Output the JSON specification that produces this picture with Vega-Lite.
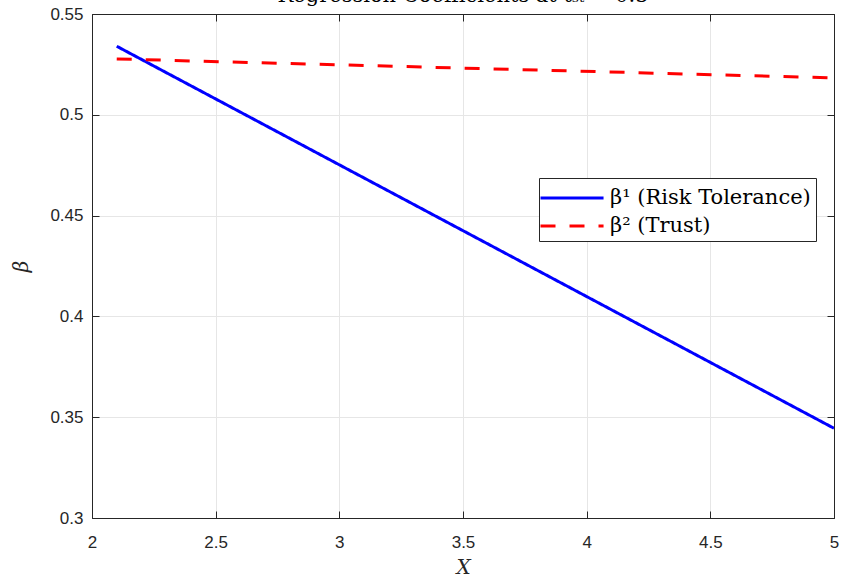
{
  "$schema": "https://vega.github.io/schema/vega-lite/v6.json",
  "autosize": {"type": "none"},
  "width": 742,
  "height": 504,
  "padding": {"left": 92, "top": 14, "right": 8, "bottom": 60},
  "background": "white",
  "title": {
    "text": "Regression Coefficients at tₛₜ = 0.5",
    "font": "DejaVu Serif",
    "fontSize": 21,
    "fontWeight": "normal",
    "color": "#000000",
    "baseline": "alphabetic",
    "frame": "group",
    "offset": 0,
    "dy": 18,
    "anchor": "middle"
  },
  "config": {
    "view": {"stroke": "#262626", "strokeWidth": 1},
    "axis": {
      "labelFont": "Liberation Sans",
      "labelFontSize": 17,
      "labelColor": "#262626",
      "domainColor": "#262626",
      "tickColor": "#262626",
      "tickSize": -7,
      "gridColor": "#e6e6e6",
      "gridWidth": 1,
      "titleFont": "DejaVu Serif",
      "titleFontStyle": "italic",
      "titleFontWeight": "normal",
      "titleFontSize": 20,
      "titleColor": "#262626"
    }
  },
  "data": {
    "values": [
      {"x": 2.1, "beta": 0.534, "series": "β¹ (Risk Tolerance)"},
      {"x": 5.0, "beta": 0.3445, "series": "β¹ (Risk Tolerance)"},
      {"x": 2.1, "beta": 0.5277, "series": "β² (Trust)"},
      {"x": 5.0, "beta": 0.5183, "series": "β² (Trust)"}
    ]
  },
  "layer": [
    {
      "mark": {"type": "line", "strokeWidth": 3, "clip": true},
      "encoding": {
        "x": {
          "field": "x", "type": "quantitative",
          "scale": {"domain": [2, 5], "nice": false, "zero": false},
          "axis": {"values": [2, 2.5, 3, 3.5, 4, 4.5, 5], "format": "~g", "title": "X", "labelPadding": 23, "titlePadding": 7, "labelFlush": false}
        },
        "y": {
          "field": "beta", "type": "quantitative",
          "scale": {"domain": [0.3, 0.55], "nice": false, "zero": false},
          "axis": {"values": [0.3, 0.35, 0.4, 0.45, 0.5, 0.55], "format": "~g", "title": "β", "labelPadding": 16, "titlePadding": 18, "labelFlush": false}
        },
        "color": {
          "field": "series", "type": "nominal",
          "scale": {"domain": ["β¹ (Risk Tolerance)", "β² (Trust)"], "range": ["#0000ff", "#ff0000"]},
          "legend": {
            "title": null,
            "orient": "none",
            "legendX": 447,
            "legendY": 164,
            "fillColor": "white",
            "strokeColor": "#262626",
            "padding": 5,
            "labelFont": "DejaVu Serif",
            "labelFontSize": 21,
            "labelColor": "#000000",
            "symbolType": "M-1.37,0L3.3,0",
            "symbolSize": 729,
            "symbolStrokeWidth": 3,
            "rowPadding": 3,
            "labelOffset": 36,
            "labelLimit": 400
          }
        },
        "strokeDash": {
          "field": "series", "type": "nominal",
          "scale": {"domain": ["β¹ (Risk Tolerance)", "β² (Trust)"], "range": [[1, 0], [15, 14]]},
          "legend": null
        }
      }
    },
    {
      "mark": {"type": "line", "opacity": 0},
      "encoding": {
        "x": {"field": "x", "type": "quantitative", "axis": {"orient": "top", "values": [2, 2.5, 3, 3.5, 4, 4.5, 5], "labels": false, "grid": false, "title": null}},
        "y": {"field": "beta", "type": "quantitative", "axis": {"orient": "right", "values": [0.3, 0.35, 0.4, 0.45, 0.5, 0.55], "labels": false, "grid": false, "title": null}}
      }
    }
  ],
  "resolve": {"axis": {"x": "independent", "y": "independent"}}
}
